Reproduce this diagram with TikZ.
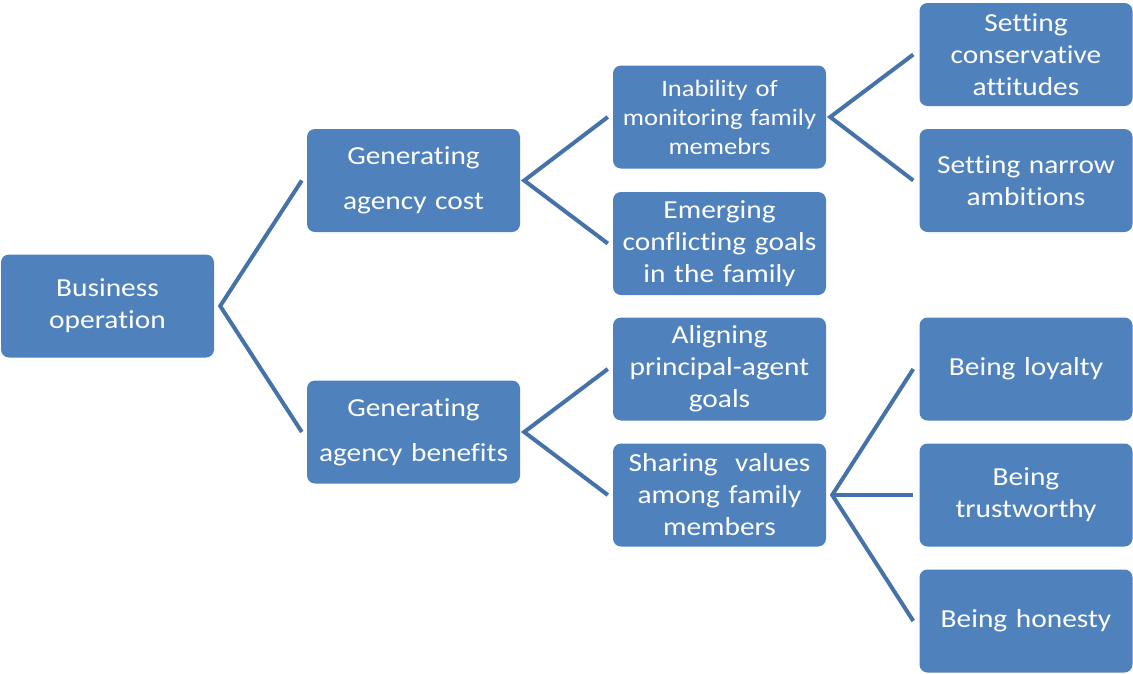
\documentclass[tikz,border=0pt]{standalone}
\usepackage{fontspec}
\setmainfont{Carlito}[Ligatures=CommonOff, FakeStretch=1.13]
\usetikzlibrary{calc}
\definecolor{boxblue}{RGB}{79,129,189}
\definecolor{lineblue}{RGB}{70,114,170}
\tikzset{
  box/.style={fill=boxblue, rounded corners=8pt, minimum width=213pt, minimum height=103pt,
    inner sep=0pt, text=white, align=center, text width=211pt,
    font=\fontsize{26}{32}\selectfont},
  smalltext/.style={font=\fontsize{23.5}{29}\selectfont},
  conn/.style={draw=lineblue, line width=4pt, line join=miter}
}
\begin{document}
\begin{tikzpicture}[x=1pt,y=-1pt]
\useasboundingbox (0,0) rectangle (1133,673);
% nodes
\node[box] (bo)  at (107.5,306)   {Business\\operation};
\node[box] (gac) at (413.5,180.5) {Generating\\[13pt]agency cost};
\node[box] (gab) at (413.5,432)   {Generating\\[13pt]agency benefits};
\node[box,smalltext] (inm) at (719.5,117) {Inability of\\monitoring family\\memebrs};
\node[box] (ecg) at (719.5,243.5) {Emerging\\conflicting goals\\in the family};
\node[box] (apg) at (719.5,369)   {Aligning\\principal-agent\\goals};
\node[box] (svf) at (719.5,495)   {Sharing~ values\\among family\\members};
\node[box] (sca) at (1026,54.5)   {Setting\\conservative\\attitudes};
\node[box] (sna) at (1026,180.5)  {Setting narrow\\ambitions};
\node[box] (bl)  at (1026,369)    {Being loyalty};
\node[box] (bt)  at (1026,495)    {Being\\trustworthy};
\node[box] (bh)  at (1026,621)    {Being honesty};
% connector points
\coordinate (v0) at ($(bo.east)+(6,0)$);
\coordinate (v1) at ($(gac.east)+(4,0)$);
\coordinate (v2) at ($(gab.east)+(4,0)$);
\coordinate (v3) at ($(inm.east)+(4,0)$);
\coordinate (v4) at ($(svf.east)+(6,0)$);
\coordinate (e-gac) at ($(gac.west)+(-5,0)$);
\coordinate (e-gab) at ($(gab.west)+(-5,0)$);
\coordinate (e-inm) at ($(inm.west)+(-5,0)$);
\coordinate (e-ecg) at ($(ecg.west)+(-5,0)$);
\coordinate (e-apg) at ($(apg.west)+(-5,0)$);
\coordinate (e-svf) at ($(svf.west)+(-5,0)$);
\coordinate (e-sca) at ($(sca.west)+(-6,0)$);
\coordinate (e-sna) at ($(sna.west)+(-6,0)$);
\coordinate (e-bl)  at ($(bl.west)+(-6,0)$);
\coordinate (e-bt)  at ($(bt.west)+(-6,0)$);
\coordinate (e-bh)  at ($(bh.west)+(-6,0)$);
% connectors
\draw[conn] (e-gac) -- (v0) -- (e-gab);
\draw[conn] (e-inm) -- (v1) -- (e-ecg);
\draw[conn] (e-apg) -- (v2) -- (e-svf);
\draw[conn] (e-sca) -- (v3) -- (e-sna);
\draw[conn] (e-bl) -- (v4) -- (e-bh);
\draw[conn] (v4) -- (e-bt);
\end{tikzpicture}
\end{document}
